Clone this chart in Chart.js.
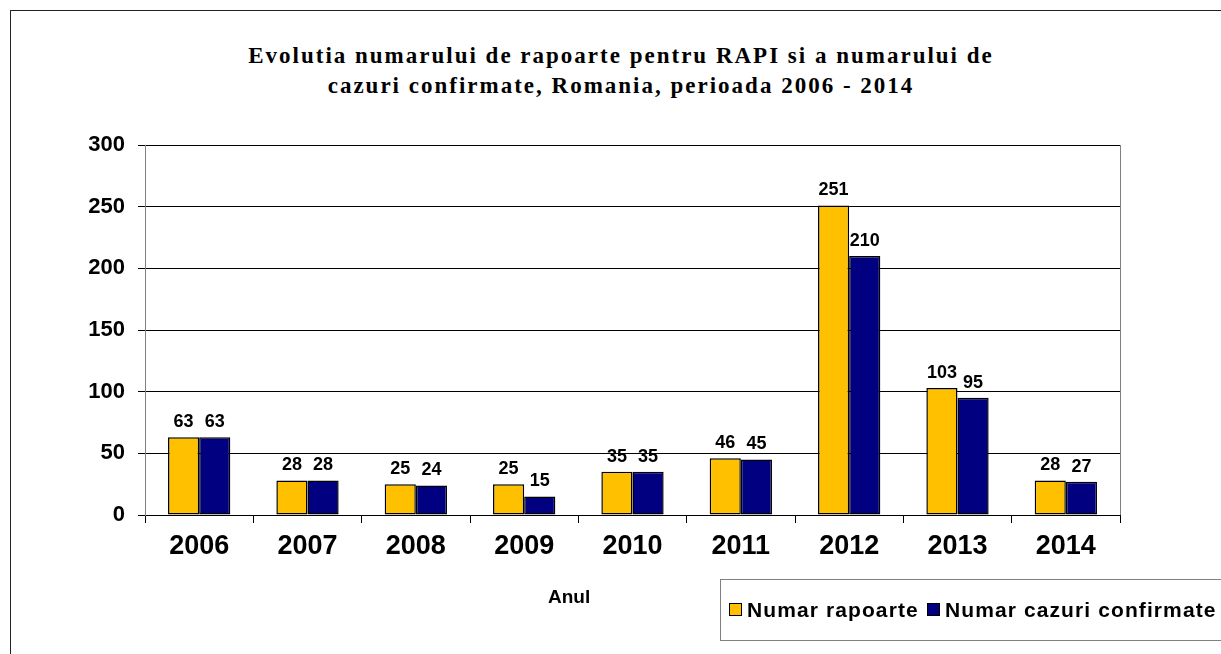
<!DOCTYPE html>
<html>
<head>
<meta charset="utf-8">
<script src="https://cdn.jsdelivr.net/npm/chart.js@4/dist/chart.umd.min.js"></script>
<style>
  html, body { margin: 0; padding: 0; background: #fff; }
  #wrap { position: relative; width: 1221px; height: 654px; overflow: hidden; }
  #frame { position: absolute; left: 10px; top: 10px; width: 1230px; height: 700px; border: 1px solid #222; box-sizing: border-box; }
  #title { position: absolute; left: 0; top: 41px; width: 1242px; text-align: center;
    font: bold 23px "Liberation Serif", "Times New Roman", serif; line-height: 30px; color: #000; letter-spacing: 2px; }
  #anul { position: absolute; left: 548px; top: 586px; font: bold 19px "Liberation Sans", Arial, sans-serif; color: #000; }
  #legend { position: absolute; left: 720px; top: 579px; width: 510px; height: 62px; border: 1px solid #808080; box-sizing: border-box;
    font: bold 21px "Liberation Sans", Arial, sans-serif; letter-spacing: 1.1px; color: #000; white-space: nowrap; }
  #legend .item { position: absolute; top: 18px; }
  #legend .sw { display: inline-block; width: 11px; height: 11px; border: 1px solid #000; margin-right: 5px; vertical-align: 1px; }
  canvas { position: absolute; left: 0; top: 0; }
</style>
</head>
<body>
<div id="wrap">
  <div id="frame"></div>
  <div id="title">Evolutia numarului de rapoarte pentru RAPI si a numarului de<br>cazuri confirmate, Romania, perioada 2006 - 2014</div>
  <canvas id="c" width="1221" height="654"></canvas>
  <div id="anul">Anul</div>
  <div id="legend">
    <span class="item" style="left:8px"><span class="sw" style="background:#FFC000"></span>Numar rapoarte</span>
    <span class="item" style="left:206px"><span class="sw" style="background:#000080"></span>Numar cazuri confirmate</span>
  </div>
</div>
<script>
  var YEARS = ['2006', '2007', '2008', '2009', '2010', '2011', '2012', '2013', '2014'];
  var RAPOARTE = [63, 28, 25, 25, 35, 46, 251, 103, 28];
  var CONFIRMATE = [63, 28, 24, 15, 35, 45, 210, 95, 27];
  var Y_MAX = 300, Y_STEP = 50;

  var SANS = '"Liberation Sans", Arial, sans-serif';

  // etichete valori deasupra barelor
  var valueLabels = {
    id: 'valueLabels',
    afterDatasetsDraw: function (chart) {
      var ctx = chart.ctx;
      ctx.save();
      ctx.font = 'bold 18px ' + SANS;
      ctx.fillStyle = '#000';
      ctx.textAlign = 'center';
      ctx.textBaseline = 'bottom';
      chart.data.datasets.forEach(function (ds, di) {
        chart.getDatasetMeta(di).data.forEach(function (bar, i) {
          ctx.fillText(String(ds.data[i]), bar.x, bar.y - 6);
        });
      });
      ctx.restore();
    }
  };

  // chenarul zonei de desen (dreapta)
  var plotBorder = {
    id: 'plotBorder',
    beforeDatasetsDraw: function (chart) {
      var a = chart.chartArea, ctx = chart.ctx;
      ctx.save();
      ctx.strokeStyle = '#808080';
      ctx.lineWidth = 1;
      ctx.beginPath();
      ctx.moveTo(a.right + 0.5, a.top);
      ctx.lineTo(a.right + 0.5, a.bottom);
      ctx.stroke();
      ctx.restore();
    }
  };

  new Chart(document.getElementById('c').getContext('2d'), {
    type: 'bar',
    data: {
      labels: YEARS,
      datasets: [
        { label: 'Numar rapoarte', data: RAPOARTE, backgroundColor: '#FFC000', borderColor: '#000', borderWidth: 1.5, borderSkipped: false },
        { label: 'Numar cazuri confirmate', data: CONFIRMATE, backgroundColor: '#000080', borderColor: '#000', borderWidth: 1.5, borderSkipped: false },
      ],
    },
    options: {
      responsive: false, animation: false,
      layout: { padding: { left: 0, top: 145, right: 101, bottom: 89 } },
      datasets: { bar: { categoryPercentage: 0.575, barPercentage: 1 } },
      plugins: { legend: { display: false }, title: { display: false }, tooltip: { enabled: false } },
      scales: {
        x: {
          afterFit: function (axis) { axis.height = 50; },
          grid: { drawOnChartArea: false, offset: true, tickLength: 8, color: '#000' },
          border: { color: '#000' },
          ticks: { font: { family: SANS, size: 27, weight: 'bold' }, color: '#000', padding: 7, maxRotation: 0 },
        },
        y: {
          min: 0, max: Y_MAX,
          afterFit: function (axis) { axis.width = 145; },
          grid: { color: '#000', tickLength: 7 },
          border: { color: '#808080' },
          ticks: { stepSize: Y_STEP, font: { family: SANS, size: 22, weight: 'bold' }, color: '#000', padding: 13 },
        },
      },
    },
    plugins: [valueLabels, plotBorder],
  });
</script>
</body>
</html>
